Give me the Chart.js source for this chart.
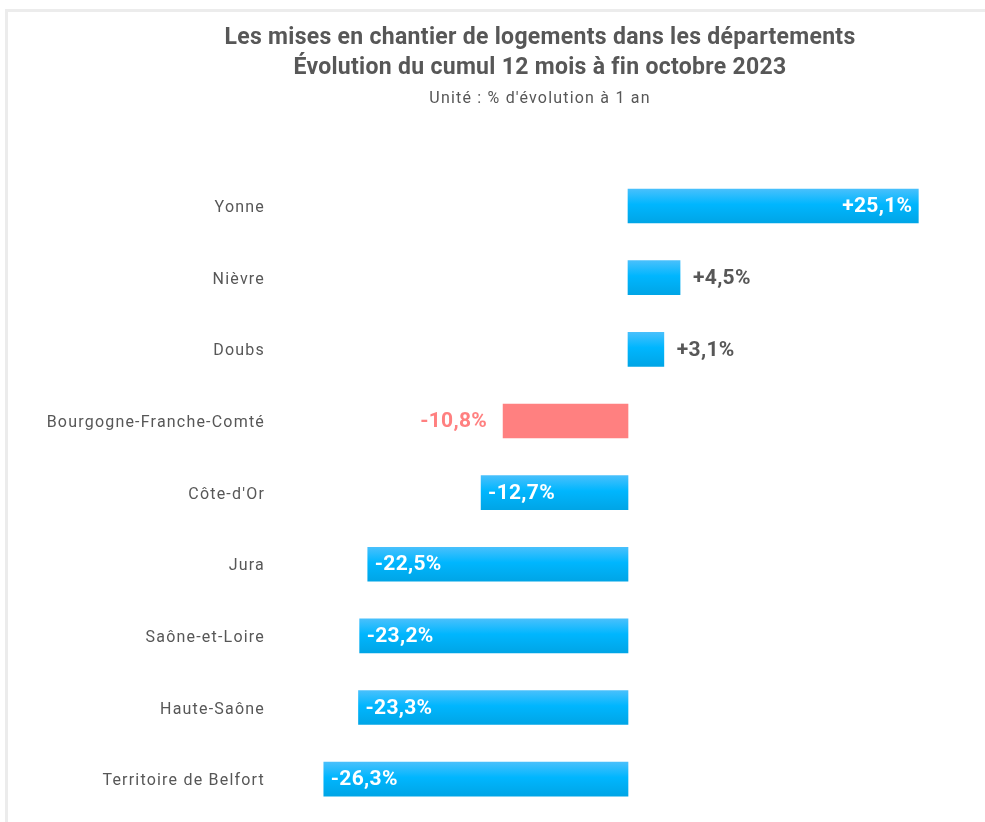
<!DOCTYPE html>
<html>
<head>
<meta charset="utf-8">
<script src="https://cdn.jsdelivr.net/npm/chart.js@4"></script>
<style>
  html, body { margin: 0; padding: 0; background: #fff; overflow: hidden; }
  #frame { position: absolute; left: 5px; top: 9px; width: 1000px; height: 900px; border: 3px solid #ececec; }
  #wrap { position: absolute; left: 0; top: 0; width: 985px; height: 822px; }
</style>
</head>
<body>
<div id="frame"></div>
<div id="wrap"><canvas id="chart"></canvas></div>
<script>
var departements = ['Yonne', 'Nièvre', 'Doubs', 'Bourgogne-Franche-Comté', "Côte-d'Or", 'Jura', 'Saône-et-Loire', 'Haute-Saône', 'Territoire de Belfort'];
var evolution = [25.1, 4.5, 3.1, -10.8, -12.7, -22.5, -23.2, -23.3, -26.3];
var region = 'Bourgogne-Franche-Comté';

var titleLines = ['Les mises en chantier de logements dans les départements', 'Évolution du cumul 12 mois à fin octobre 2023'];
var subtitleText = "Unité : % d'évolution à 1 an";

var textColor = '#575757';
var pink = '#ff8080';

var formatValue = function(v) {
  return (v > 0 ? '+' : '') + v.toFixed(1).replace('.', ',') + '%';
};

var barFill = function(c) {
  var chart = c.chart;
  if (departements[c.dataIndex] === region) {
    return pink;
  }
  if (!chart.chartArea || !chart.scales.y) {
    return '#00b4ff';
  }
  var y = chart.scales.y.getPixelForValue(c.dataIndex);
  var g = chart.ctx.createLinearGradient(0, y - 17, 0, y + 17);
  g.addColorStop(0, '#48c0fc');
  g.addColorStop(0.45, '#00b6fe');
  g.addColorStop(1, '#00a5e6');
  return g;
};

var valueLabels = {
  id: 'valueLabels',
  beforeDraw: function(chart) {
    var ctx = chart.ctx;
    // the source spaces out its small texts, the title stays tight
    ctx.letterSpacing = '1.2px';
    var tb = chart.titleBlock;
    if (tb && !tb._tight) {
      var draw = tb.draw;
      tb.draw = function(area) {
        ctx.letterSpacing = '0.3px';
        draw.call(tb, area);
        ctx.letterSpacing = '1.2px';
      };
      tb._tight = true;
    }
  },
  afterLayout: function(chart) {
    // let the long category labels run left of the axis box
    chart.scales.y.left = 0;
  },
  afterDatasetsDraw: function(chart) {
    var ctx = chart.ctx;
    var meta = chart.getDatasetMeta(0);
    ctx.save();
    ctx.letterSpacing = '0.3px';
    ctx.font = 'bold 21px Roboto';
    ctx.textBaseline = 'middle';
    meta.data.forEach(function(bar, i) {
      var v = evolution[i];
      var isRegion = departements[i] === region;
      var inside = !isRegion && Math.abs(v) > 10;
      var x;
      if (inside) {
        ctx.fillStyle = '#ffffff';
        ctx.textAlign = v > 0 ? 'right' : 'left';
        x = v > 0 ? bar.x - 6 : bar.x + 7;
      } else {
        ctx.fillStyle = isRegion ? pink : textColor;
        ctx.textAlign = v > 0 ? 'left' : 'right';
        x = v > 0 ? bar.x + 13 : bar.x - 16;
      }
      ctx.fillText(formatValue(v), x, bar.y + 1);
    });
    ctx.restore();
    ctx.letterSpacing = '1.2px';
  },
  afterDraw: function(chart) {
    chart.ctx.letterSpacing = '0px';
  }
};

new Chart(document.getElementById('chart'), {
  type: 'bar',
  data: {
    labels: departements,
    datasets: [{
      data: evolution,
      backgroundColor: barFill,
      borderWidth: 0,
      barThickness: 34
    }]
  },
  options: {
    indexAxis: 'y',
    responsive: true,
    maintainAspectRatio: false,
    animation: false,
    layout: { padding: { top: 23, left: 105, right: 10, bottom: 7 } },
    plugins: {
      legend: { display: false },
      tooltip: { enabled: false },
      title: {
        display: true,
        text: titleLines,
        color: textColor,
        font: { family: 'Roboto', size: 23, weight: 'bold', lineHeight: 30 / 23 },
        padding: { top: 0, bottom: 6 }
      },
      subtitle: {
        display: true,
        text: subtitleText,
        color: textColor,
        font: { family: 'Roboto', size: 16, lineHeight: 1.2 },
        padding: { top: 0, bottom: 62 }
      }
    },
    scales: {
      x: {
        display: false,
        min: -30,
        max: 30
      },
      y: {
        grid: { display: false, drawTicks: false },
        border: { display: false },
        ticks: {
          color: textColor,
          font: { family: 'Roboto', size: 16 },
          padding: 16,
          labelOffset: 2
        },
        afterFit: function(scale) {
          scale.width = 176;
          scale.paddingTop = 0;
          scale.paddingBottom = 0;
        }
      }
    }
  },
  plugins: [valueLabels]
});
</script>
</body>
</html>
